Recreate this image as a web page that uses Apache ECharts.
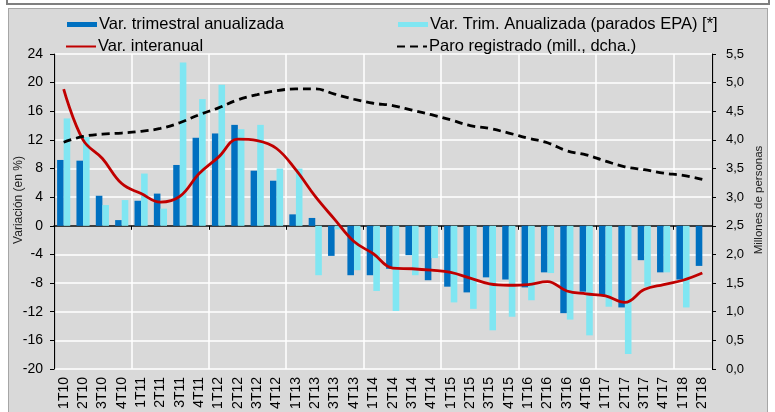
<!DOCTYPE html>
<html>
<head>
<meta charset="utf-8">
<script src="https://cdn.jsdelivr.net/npm/echarts@6/dist/echarts.min.js"></script>
<style>
  html, body { margin: 0; padding: 0; background: #fff; }
  #frameTop { position: absolute; left: 6px; top: -20px; width: 760px; height: 21px; border: 2px solid #7f7f7f; }
  #frame { position: absolute; left: 8px; top: 8px; width: 758px; height: 420px; border: 1px solid #a6a6a6; background: #d9d9d9; }
  #chart { position: absolute; left: 0; top: 0; width: 775px; height: 412px; }
</style>
</head>
<body>
<div id="frameTop"></div>
<div id="frame"></div>
<div id="chart"></div>
<script>
// trimestres
const categories = [
  "1T10", "2T10", "3T10", "4T10", "1T11", "2T11", "3T11", "4T11",
  "1T12", "2T12", "3T12", "4T12", "1T13", "2T13", "3T13", "4T13",
  "1T14", "2T14", "3T14", "4T14", "1T15", "2T15", "3T15", "4T15",
  "1T16", "2T16", "3T16", "4T16", "1T17", "2T17", "3T17", "4T17",
  "1T18", "2T18"
];
// Var. trimestral anualizada (%)
const trimestral = [
  9.2, 9.1, 4.2, 0.8, 3.5, 4.5, 8.5, 12.3,
  12.9, 14.1, 7.7, 6.3, 1.6, 1.1, -4.2, -6.9,
  -6.9, -6.0, -4.1, -7.6, -8.5, -9.3, -7.2, -7.5,
  -8.6, -6.5, -12.2, -9.2, -9.7, -11.4, -4.8, -6.5,
  -7.5, -5.6
];
// Var. Trim. Anualizada (parados EPA) (%)
const paradosEPA = [
  15.0, 12.4, 2.9, 3.6, 7.3, 2.4, 22.8, 17.7,
  19.7, 13.5, 14.1, 8.0, 8.0, -6.9, -0.5, -6.2,
  -9.1, -11.9, -6.9, -4.5, -10.7, -11.6, -14.6, -12.7,
  -10.4, -6.6, -13.1, -15.3, -11.3, -17.9, -8.5, -6.5,
  -11.4, null
];
// Var. interanual (%)
const interanual = [
  19.1, 12.0, 9.4, 5.9, 4.5, 3.3, 4.1, 7.3,
  9.6, 12.1, 11.9, 10.8, 7.8, 4.1, 0.9, -2.2,
  -3.9, -5.9, -6.0, -6.2, -6.5, -7.3, -8.1, -8.3,
  -8.2, -7.8, -9.1, -9.5, -9.8, -10.7, -8.9, -8.2,
  -7.6, -6.6
];
// Paro registrado (millones, eje dcho.)
const paroRegistrado = [
  3.96, 4.06, 4.10, 4.12, 4.15, 4.20, 4.30, 4.44,
  4.56, 4.70, 4.79, 4.86, 4.89, 4.89, 4.80, 4.71,
  4.64, 4.60, 4.52, 4.44, 4.35, 4.25, 4.20, 4.12,
  4.03, 3.95, 3.81, 3.74, 3.63, 3.53, 3.48, 3.42,
  3.38, 3.31
];

const font = "'Liberation Sans', Arial, sans-serif";
var myChart = echarts.init(document.getElementById("chart"));

// una línea vertical cada 4 trimestres
const every4 = (idx) => idx % 4 === 0;

const legendBase = {
  itemWidth: 30,
  itemGap: 5,
  textStyle: { fontFamily: font, fontSize: 16.5, color: "#000", padding: [0, 0, 0, -3] },
  itemStyle: { opacity: 0 },
  lineStyle: { opacity: 1 },
  selectedMode: false,
};

var option = {
  backgroundColor: "transparent",
  animation: false,
  textStyle: { fontFamily: font },
  grid: { left: 54, right: 63, top: 54, bottom: 43, containLabel: false },
  legend: [
    Object.assign({}, legendBase, { left: 62, top: 11, itemHeight: 5, icon: "rect", itemStyle: {}, data: ["Var. trimestral anualizada"] }),
    Object.assign({}, legendBase, { left: 393, top: 11, itemHeight: 5, icon: "rect", itemStyle: {}, data: ["Var. Trim. Anualizada (parados EPA) [*]"] }),
    Object.assign({}, legendBase, { left: 60, top: 33, itemHeight: 14, data: ["Var. interanual"] }),
    Object.assign({}, legendBase, { left: 391, top: 33, itemHeight: 14, data: ["Paro registrado (mill., dcha.)"] }),
  ],
  graphic: [
    {
      type: "text",
      x: 19, y: 200, rotation: Math.PI / 2,
      style: { text: "Variación (en %)", fontFamily: font, fontSize: 12, fill: "#222", align: "center", verticalAlign: "middle" },
    },
    {
      type: "text",
      x: 759, y: 200, rotation: Math.PI / 2,
      style: { text: "Millones de personas", fontFamily: font, fontSize: 11.5, fill: "#222", align: "center", verticalAlign: "middle" },
    },
  ],
  xAxis: [
    {
      type: "category",
      data: categories,
      position: "bottom",
      axisLine: { show: false, onZero: false },
      axisTick: { show: false },
      axisLabel: { rotate: 90, interval: 0, margin: 8, fontSize: 14, color: "#000", fontFamily: font },
      splitLine: { show: true, interval: every4, lineStyle: { color: "#fff", width: 1.5 } },
    },
    {
      // eje en el cero
      type: "category",
      data: categories,
      position: "top",
      axisLine: { show: true, onZero: true, lineStyle: { color: "#000", width: 1.5 } },
      axisTick: { show: true, inside: true, interval: every4, length: 4, lineStyle: { color: "#000" } },
      axisLabel: { show: false },
      splitLine: { show: false },
    },
  ],
  yAxis: [
    {
      type: "value",
      min: -20,
      max: 24,
      interval: 4,
      axisLine: { show: true, lineStyle: { color: "#000", width: 1.2 } },
      axisTick: { show: true, length: 4, lineStyle: { color: "#000" } },
      axisLabel: { fontSize: 14, color: "#000", margin: 11, fontFamily: font },
      splitLine: { show: true, lineStyle: { color: "#fff", width: 1.5 } },
    },
    {
      type: "value",
      min: 0,
      max: 5.5,
      interval: 0.5,
      position: "right",
      axisLine: { show: true, lineStyle: { color: "#000", width: 1.2 } },
      axisTick: { show: true, length: 4, lineStyle: { color: "#000" } },
      axisLabel: {
        fontSize: 13, color: "#000", margin: 14, fontFamily: font,
        formatter: (v) => v.toFixed(1).replace(".", ","),
      },
      splitLine: { show: false },
    },
  ],
  series: [
    {
      name: "Var. trimestral anualizada",
      type: "bar",
      data: trimestral,
      barGap: "0%",
      barCategoryGap: "32%",
      itemStyle: { color: "#0070C0" },
    },
    {
      name: "Var. Trim. Anualizada (parados EPA) [*]",
      type: "bar",
      data: paradosEPA,
      barGap: "0%",
      barCategoryGap: "32%",
      itemStyle: { color: "#80E6F2" },
    },
    {
      name: "Var. interanual",
      type: "line",
      data: interanual,
      smooth: 0.4,
      symbol: "none",
      lineStyle: { color: "#C00000", width: 2.8 },
      itemStyle: { color: "#C00000" },
    },
    {
      name: "Paro registrado (mill., dcha.)",
      type: "line",
      yAxisIndex: 1,
      data: paroRegistrado,
      smooth: 0.4,
      symbol: "none",
      lineStyle: { color: "#000", width: 2.8, type: [8, 5] },
      itemStyle: { color: "#000" },
    },
  ],
};

option && myChart.setOption(option);
</script>
</body>
</html>
